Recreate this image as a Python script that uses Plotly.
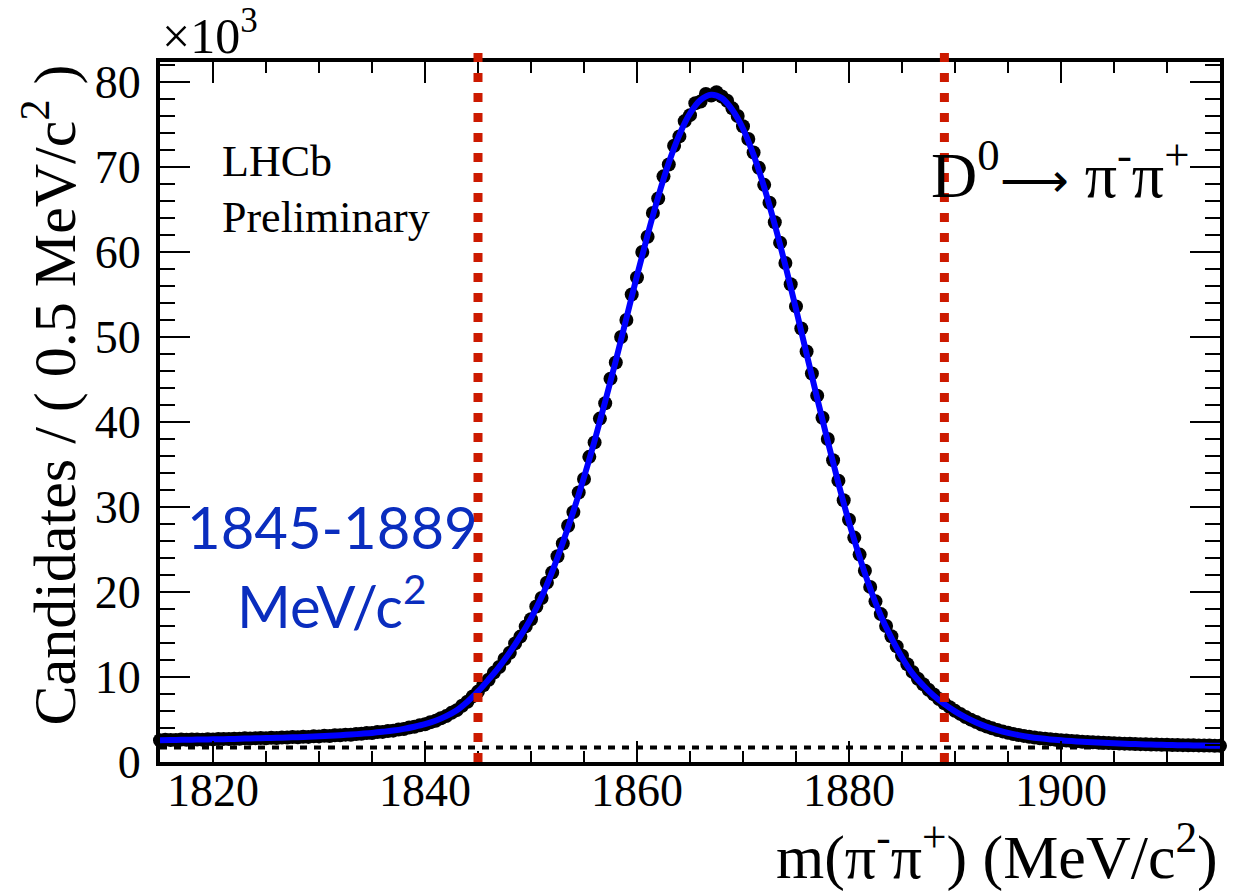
import numpy as np
import plotly.graph_objects as go

# ---------------- data (values in units of 10^3 candidates) ----------------
mass_lo, mass_hi, bin_width = 1815.0, 1915.0, 0.5
mass_points = np.arange(mass_lo, mass_hi + 1e-9, bin_width)

candidates_k = [
    2.55, 2.63, 2.58, 2.60, 2.64, 2.61, 2.66, 2.64, 2.63, 2.69,
    2.66, 2.70, 2.72, 2.70, 2.74, 2.73, 2.79, 2.77, 2.78, 2.82,
    2.80, 2.86, 2.83, 2.89, 2.87, 2.94, 2.90, 2.97, 2.95, 3.02,
    3.01, 3.08, 3.06, 3.14, 3.15, 3.22, 3.21, 3.30, 3.31, 3.40,
    3.41, 3.52, 3.54, 3.65, 3.69, 3.83, 3.89, 4.05, 4.14, 4.33,
    4.44, 4.67, 4.84, 5.15, 5.40, 5.78, 6.10, 6.62, 7.08, 7.72,
    8.28, 9.03, 9.68, 10.52, 11.18, 12.12, 12.86, 13.95, 14.75, 15.95,
    16.8, 18.3, 19.3, 21.1, 22.3, 24.2, 25.7, 27.8, 29.4, 31.7,
    33.3, 35.9, 37.6, 40.4, 42.2, 45.1, 47.0, 50.0, 52.0, 55.0,
    57.0, 60.0, 61.8, 64.6, 66.3, 68.9, 70.3, 72.5, 73.6, 75.4,
    76.1, 77.5, 77.7, 78.6, 78.4, 78.8, 78.3, 77.8, 76.9, 76.0,
    74.8, 73.3, 71.7, 69.9, 67.9, 65.8, 63.5, 61.1, 58.7, 56.2,
    53.6, 51.0, 48.3, 45.7, 43.1, 40.5, 38.0, 35.5, 33.1, 30.8,
    28.5, 26.4, 24.4, 22.5, 20.6, 18.9, 17.4, 16.0, 14.8, 13.6,
    12.5, 11.5, 10.6, 9.8, 9.15, 8.5, 7.95, 7.4, 6.9, 6.45,
    6.02, 5.66, 5.30, 4.98, 4.70, 4.42, 4.18, 3.96, 3.77, 3.60,
    3.44, 3.30, 3.17, 3.07, 2.97, 2.88, 2.80, 2.74, 2.67, 2.62,
    2.56, 2.52, 2.47, 2.43, 2.39, 2.36, 2.32, 2.29, 2.26, 2.24,
    2.21, 2.18, 2.16, 2.14, 2.12, 2.10, 2.08, 2.06, 2.05, 2.03,
    2.02, 2.00, 1.99, 1.98, 1.97, 1.96, 1.95, 1.94, 1.93, 1.92,
    1.90,
]

fit_mass = np.arange(1815, 1916, 1)
fit_k = [
    2.57, 2.59, 2.61, 2.63, 2.65, 2.67, 2.69, 2.72, 2.75, 2.78,
    2.81, 2.84, 2.88, 2.92, 2.97, 3.02, 3.08, 3.15, 3.23, 3.32,
    3.42, 3.55, 3.70, 3.90, 4.15, 4.45, 4.85, 5.40, 6.10, 7.10,
    8.30, 9.70, 11.2, 12.9, 14.8, 16.9, 19.4, 22.4, 25.8, 29.5,
    33.5, 37.8, 42.4, 47.2, 52.2, 57.2, 62.0, 66.5, 70.5, 73.8,
    76.3, 77.9, 78.5, 78.1, 76.7, 74.5, 71.4, 67.6, 63.2, 58.4,
    53.3, 48.0, 42.8, 37.7, 32.8, 28.2, 24.1, 20.4, 17.2, 14.6,
    12.3, 10.4, 9.0, 7.8, 6.8, 5.95, 5.25, 4.65, 4.15, 3.75,
    3.42, 3.16, 2.95, 2.79, 2.66, 2.55, 2.46, 2.38, 2.31, 2.25,
    2.20, 2.15, 2.11, 2.07, 2.04, 2.01, 1.98, 1.96, 1.94, 1.92,
    1.90,
]

background_k = [1.72, 1.72]
background_mass = [mass_lo, mass_hi]

signal_window = [1845, 1889]

x_ticks = [1820, 1840, 1860, 1880, 1900]
y_ticks = [0, 10, 20, 30, 40, 50, 60, 70, 80]
y_max = 82.35

# ---------------- figure ----------------
SERIF = "Liberation Serif, Times New Roman, serif"

fig = go.Figure()

fig.add_trace(go.Scatter(
    x=background_mass, y=background_k, mode="lines",
    line=dict(color="black", width=4, dash="7px,7px"),
    hoverinfo="skip", showlegend=False))

fig.add_trace(go.Scatter(
    x=mass_points, y=candidates_k, mode="markers",
    marker=dict(color="black", size=14, line=dict(width=0)),
    cliponaxis=False, showlegend=False))

fig.add_trace(go.Scatter(
    x=fit_mass, y=fit_k, mode="lines", line_shape="spline",
    line=dict(color="#0000FF", width=6),
    showlegend=False))

shapes = []
for m in signal_window:
    shapes.append(dict(
        type="line", xref="x", yref="paper", x0=m, x1=m, y0=0, y1=1.0143,
        line=dict(color="#CC1A00", width=9, dash="9px,11px"), layer="above"))

fig.update_layout(
    width=1244, height=892,
    margin=dict(l=160, r=24, t=62, b=130),
    paper_bgcolor="white", plot_bgcolor="white",
    showlegend=False,
    shapes=shapes,
    xaxis=dict(
        range=[mass_lo, mass_hi], tickvals=x_ticks,
        ticks="inside", ticklen=21, tickwidth=2, tickcolor="black",
        minor=dict(dtick=5, tick0=1815, ticks="inside", ticklen=11, tickwidth=2, tickcolor="black"),
        mirror="allticks", showline=True, linewidth=4, linecolor="black",
        showgrid=False, zeroline=False,
        tickfont=dict(family=SERIF, size=46, color="black"),
        ticklabelstandoff=-15,
    ),
    yaxis=dict(
        range=[0, y_max], tickvals=y_ticks,
        ticks="inside", ticklen=30, tickwidth=2, tickcolor="black",
        minor=dict(dtick=2, tick0=0, ticks="inside", ticklen=15, tickwidth=2, tickcolor="black"),
        mirror="allticks", showline=True, linewidth=4, linecolor="black",
        showgrid=False, zeroline=False,
        tickfont=dict(family=SERIF, size=46, color="black"),
        ticklabelstandoff=6,
    ),
    annotations=[
        dict(text="×10<sup>3</sup>", xref="paper", yref="paper", x=0.0, y=1.0,
             xanchor="left", yanchor="bottom", yshift=-4, showarrow=False,
             font=dict(family=SERIF, size=50, color="black")),
        dict(text="LHCb", xref="paper", yref="paper", x=0.0566, y=0.858,
             xanchor="left", yanchor="middle", showarrow=False,
             font=dict(family=SERIF, size=44, color="black")),
        dict(text="Preliminary", xref="paper", yref="paper", x=0.0566, y=0.778,
             xanchor="left", yanchor="middle", showarrow=False,
             font=dict(family=SERIF, size=44, color="black")),
        dict(text="D<sup>0</sup><span style='font-size:48px'>⟶</span> π<sup>-</sup>π<sup>+</sup>",
             xref="paper", yref="paper",
             x=0.7255, y=0.845, xanchor="left", yanchor="middle", showarrow=False,
             font=dict(family=SERIF, size=64, color="black")),
        dict(text="1845-1889", xref="paper", yref="paper", x=0.1623, y=0.336,
             xanchor="center", yanchor="middle", showarrow=False,
             font=dict(family="Lato, sans-serif", size=58, color="#0A2DBE")),
        dict(text="MeV/c<sup>2</sup>", xref="paper", yref="paper", x=0.1623, y=0.229,
             xanchor="center", yanchor="middle", showarrow=False,
             font=dict(family="Lato, sans-serif", size=58, color="#0A2DBE")),
        dict(text="m(π<sup>-</sup>π<sup>+</sup>) (MeV/c<sup>2</sup>)", xref="paper", yref="paper",
             x=1.0, y=-0.13, xanchor="right", yanchor="middle", showarrow=False,
             font=dict(family=SERIF, size=62, color="black")),
        dict(text="Candidates / ( 0.5 MeV/c<sup>2</sup> )", xref="paper", yref="paper",
             x=-0.1038, y=1.0, xanchor="center", yanchor="top", textangle=-90, showarrow=False,
             font=dict(family=SERIF, size=60, color="black")),
    ],
)

fig.write_html("out.html")
